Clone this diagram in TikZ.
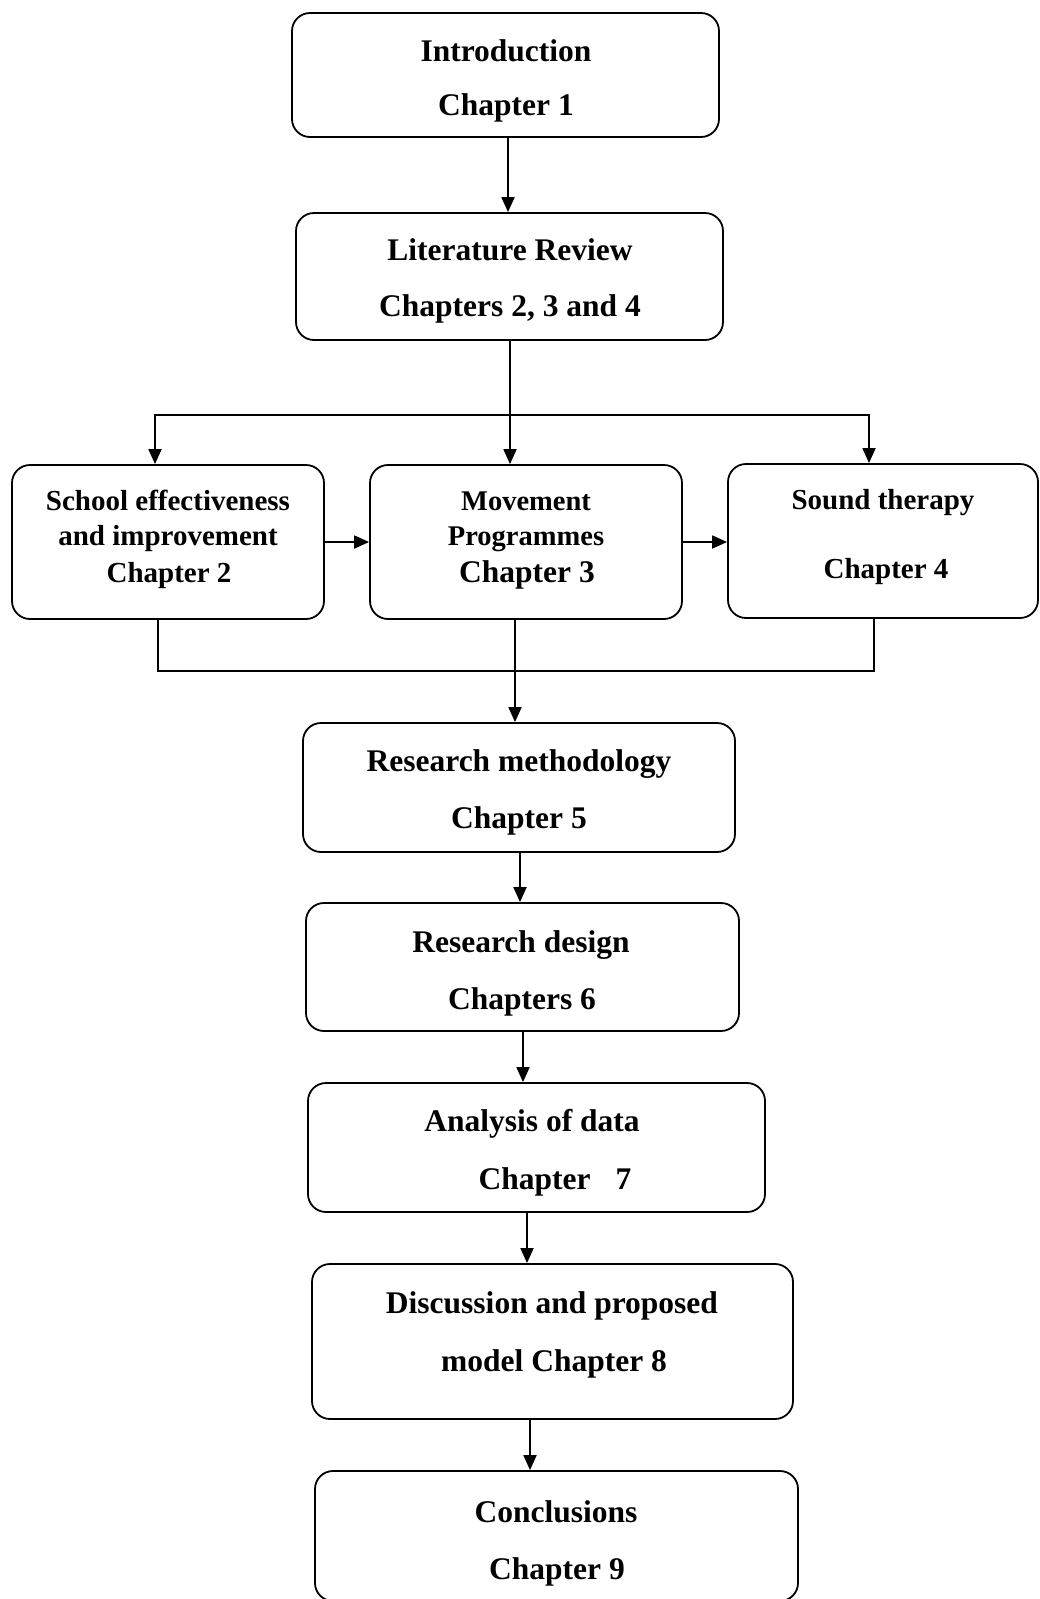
\documentclass[tikz,border=0pt]{standalone}
\usepackage{fontspec}
\setmainfont{Liberation Serif}
\usetikzlibrary{arrows.meta}
\begin{document}
\begin{tikzpicture}[x=1pt,y=-1pt,
  box/.style 2 args={draw, line width=1.8pt, rounded corners=18pt, minimum width=#1, minimum height=#2, inner sep=0pt},
  tbig/.style={font=\fontsize{31.5}{36}\selectfont\bfseries, anchor=base, inner sep=0pt},
  tmid/.style={font=\fontsize{29}{34}\selectfont\bfseries, anchor=base, inner sep=0pt},
  tsml/.style={font=\fontsize{28.5}{34}\selectfont\bfseries, anchor=base, inner sep=0pt},
  arr/.style={-{Triangle[length=15pt,width=13pt]}, line width=1.8pt},
  ln/.style={line width=1.8pt}]
\useasboundingbox (0,0) rectangle (1040,1599);
% boxes
\node[box={427pt}{124pt}] (intro) at (505.5,75) {};
\node[box={427pt}{127pt}] (lit) at (509.5,276.5) {};
\node[box={312pt}{154pt}] (A) at (168,542) {};
\node[box={312pt}{154pt}] (B) at (526,542) {};
\node[box={310pt}{154pt}] (C) at (883,541) {};
\node[box={432pt}{129pt}] (meth) at (519,787.5) {};
\node[box={433pt}{128pt}] (design) at (522.5,967) {};
\node[box={457pt}{129pt}] (anal) at (536.5,1147.5) {};
\node[box={481pt}{155pt}] (disc) at (552.5,1341.5) {};
\node[box={483pt}{130pt}] (concl) at (556.5,1536) {};
% texts
\node[tbig] (introa) at (506,61) {Introduction};
\node[tbig] (introb) at (506,115) {Chapter 1};
\node[tbig] (lita) at (510,260) {Literature Review};
\node[tbig] (litb) at (510,316) {Chapters 2, 3 and 4};
\node[tmid] (Aa) at (168,510) {School effectiveness};
\node[tmid] (Ab) at (168,545) {and improvement};
\node[tmid] (Ac) at (169,582) {Chapter 2};
\node[tsml] (Ba) at (526,510) {Movement};
\node[tsml] (Bb) at (526,545) {Programmes};
\node[tbig] (Bc) at (527,582) {Chapter 3};
\node[tmid] (Ca) at (883,509) {Sound therapy};
\node[tmid] (Cb) at (886,578) {Chapter 4};
\node[tbig] (metha) at (519,771) {Research methodology};
\node[tbig] (methb) at (519,828) {Chapter 5};
\node[tbig] (designa) at (521,952) {Research design};
\node[tbig] (designb) at (522,1009) {Chapters 6};
\node[tbig] (anala) at (532,1131) {Analysis of data};
\node[tbig] (analb) at (555,1189) {Chapter\hspace{25pt}7};
\node[tbig] (disca) at (552,1313) {Discussion and proposed};
\node[tbig] (discb) at (554,1371) {model Chapter 8};
\node[tbig] (concla) at (556,1522) {Conclusions};
\node[tbig] (conclb) at (557,1579) {Chapter 9};
% connectors
\coordinate (v1) at (508,0);
\coordinate (v2) at (510,415);
\coordinate (aL) at (155,0);
\coordinate (cR) at (869,0);
\coordinate (aB) at (158,0);
\coordinate (cB) at (874,0);
\coordinate (m) at (515,671);
\coordinate (v3) at (520,0);
\coordinate (v4) at (523,0);
\coordinate (v5) at (527,0);
\coordinate (v6) at (530,0);
\draw[arr] (intro.south -| v1) -- (lit.north -| v1);
\draw[arr] (lit.south -| v2) -- (B.north -| v2);
\draw[arr] (v2) -| (A.north -| aL);
\draw[arr] (v2) -| (C.north -| cR);
\draw[arr] (A.east) -- (B.west);
\draw[arr] (B.east) -- (C.west |- B.east);
\draw[ln] (A.south -| aB) |- (m) -| (C.south -| cB);
\draw[arr] (B.south -| m) -- (meth.north -| m);
\draw[arr] (meth.south -| v3) -- (design.north -| v3);
\draw[arr] (design.south -| v4) -- (anal.north -| v4);
\draw[arr] (anal.south -| v5) -- (disc.north -| v5);
\draw[arr] (disc.south -| v6) -- (concl.north -| v6);
\end{tikzpicture}
\end{document}
